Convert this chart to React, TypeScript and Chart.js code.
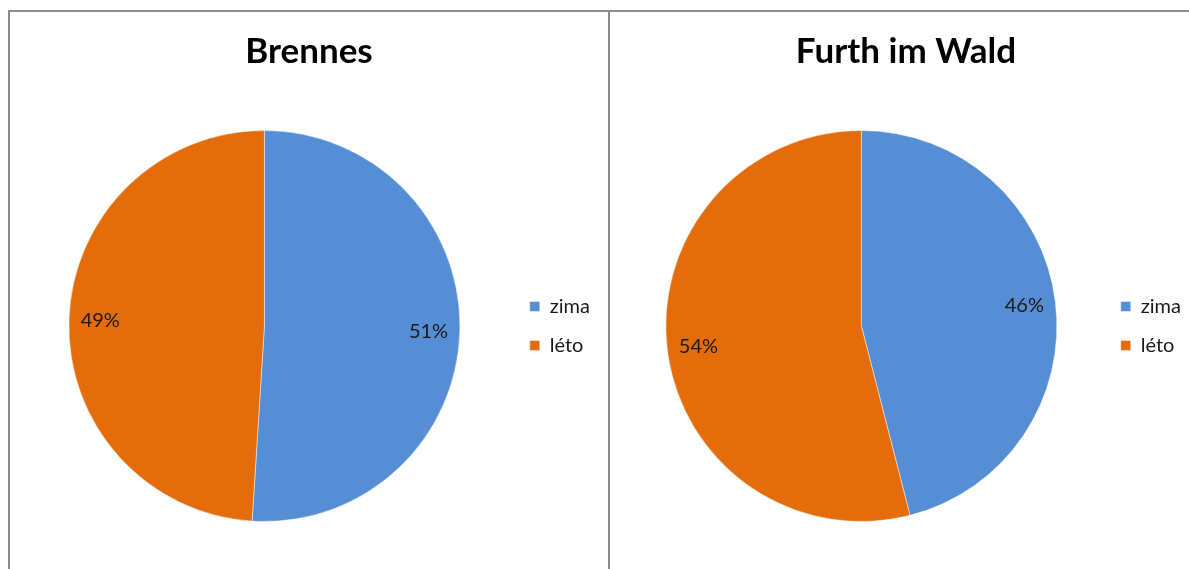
import React, { useEffect, useRef } from "react";
import { Chart, registerables } from "chart.js";

Chart.register(...registerables);

const seriesLabels = ["zima", "léto"];
const brennesTitle = "Brennes";
const brennesValues = [51, 49];
const furthTitle = "Furth im Wald";
const furthValues = [46, 54];
const sliceColors = ["#558ED5", "#E46C0A"];

const FONT = "Lato, 'Open Sans', sans-serif";

const pctLabels = {
  id: "pctLabels",
  afterDatasetsDraw(chart: any) {
    const ctx = chart.ctx;
    const meta = chart.getDatasetMeta(0);
    const data = chart.data.datasets[0].data as number[];
    const total = data.reduce((a: number, b: number) => a + b, 0);
    ctx.save();
    ctx.font = `20px ${FONT}`;
    ctx.fillStyle = "#1a1a1a";
    ctx.textAlign = "center";
    ctx.textBaseline = "middle";
    meta.data.forEach((arc: any, i: number) => {
      const { x, y, startAngle, endAngle, outerRadius } = arc.getProps(
        ["x", "y", "startAngle", "endAngle", "outerRadius"],
        true
      );
      const mid = (startAngle + endAngle) / 2;
      const r = outerRadius * 0.84;
      ctx.fillText(
        Math.round((data[i] / total) * 100) + "%",
        x + Math.cos(mid) * r,
        y + Math.sin(mid) * r
      );
    });
    ctx.restore();
  },
};

type PieProps = {
  title: string;
  values: number[];
  width: number;
  height: number;
  padLeft: number;
  padRight: number;
};

function PieChart({ title, values, width, height, padLeft, padRight }: PieProps) {
  const ref = useRef<HTMLCanvasElement | null>(null);
  useEffect(() => {
    if (!ref.current) return;
    const chart = new Chart(ref.current, {
      type: "pie",
      data: {
        labels: seriesLabels,
        datasets: [
          {
            data: values,
            backgroundColor: sliceColors,
            borderColor: "rgba(255,255,255,0.45)",
            borderWidth: 1,
          },
        ],
      },
      options: {
        animation: false,
        responsive: false,
        devicePixelRatio: 1,
        layout: { padding: { left: padLeft, right: padRight, top: 0, bottom: 47 } },
        plugins: {
          tooltip: { enabled: false },
          title: {
            display: true,
            text: title,
            color: "#000",
            font: { family: FONT, size: 35, weight: "bold" },
            padding: { top: 19, bottom: 57 },
          },
          legend: {
            display: true,
            position: "right",
            fullSize: false,
            labels: {
              color: "#1a1a1a",
              font: { family: FONT, size: 20 },
              boxWidth: 10,
              boxHeight: 10,
              padding: 19,
            },
          },
        },
      },
      plugins: [pctLabels],
    });
    return () => chart.destroy();
  }, [title, values, width, height, padLeft, padRight]);
  return <canvas ref={ref} width={width} height={height} style={{ width, height, display: "block" }} />;
}

export default function App() {
  const border = "2px solid #8c8c8c";
  return (
    <div
      style={{
        position: "fixed",
        left: 0,
        top: 0,
        width: 1189,
        height: 569,
        background: "#fff",
        overflow: "hidden",
      }}
    >
      <div
        style={{
          position: "absolute",
          left: 8,
          top: 10,
          width: 602,
          height: 600,
          boxSizing: "border-box",
          borderLeft: border,
          borderTop: border,
          borderRight: border,
        }}
      >
        <PieChart title={brennesTitle} values={brennesValues} width={598} height={557} padLeft={8} padRight={8} />
      </div>
      <div
        style={{
          position: "absolute",
          left: 610,
          top: 10,
          width: 590,
          height: 600,
          boxSizing: "border-box",
          borderTop: border,
        }}
      >
        <PieChart title={furthTitle} values={furthValues} width={590} height={557} padLeft={11} padRight={9} />
      </div>
    </div>
  );
}
